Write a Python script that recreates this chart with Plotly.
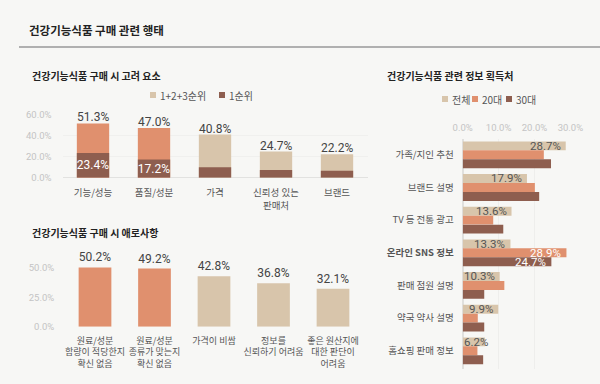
import plotly.graph_objects as go

FONT = "Noto Sans CJK KR"
NUMFONT = "Roboto"
BG = "#f7f7f5"
ORANGE = "#e0906e"
BEIGE = "#d8c5ab"
BROWN = "#8e5e4f"

# Chart 1: 구매 시 고려 요소
c1_categories = ["기능/성능", "품질/성분", "가격", "신뢰성 있는<br>판매처", "브랜드"]
c1_total = [51.3, 47.0, 40.8, 24.7, 22.2]
c1_first = [23.4, 17.2, 9.8, 7.3, 6.6]
c1_first_labels = ["23.4%", "17.2%", "", "", ""]
c1_highlight = [True, True, False, False, False]
c1_series = ["1+2+3순위", "1순위"]

# Chart 2: 구매 시 애로사항
c2_categories = ["원료/성분<br>함량이 적당한지<br>확신 없음",
                 "원료/성분<br>종류가 맞는지<br>확신 없음",
                 "가격이 비쌈",
                 "정보를<br>신뢰하기 어려움",
                 "좋은 원산지에<br>대한 판단이<br>어려움"]
c2_values = [50.2, 49.2, 42.8, 36.8, 32.1]
c2_highlight = [True, True, False, False, False]

# Chart 3: 정보 획득처
c3_categories = ["가족/지인 추천", "브랜드 설명", "TV 등 전통 광고", "<b>온라인 SNS 정보</b>",
                 "판매 점원 설명", "약국 약사 설명", "홈쇼핑 판매 정보"]
c3_all = [28.7, 17.9, 13.6, 13.3, 10.3, 9.9, 6.2]
c3_20s = [22.6, 20.1, 8.5, 28.9, 11.6, 4.2, 4.1]
c3_30s = [24.6, 21.3, 11.3, 24.7, 6.0, 6.0, 5.7]
c3_series = ["전체", "20대", "30대"]
c3_labeled_cat = "<b>온라인 SNS 정보</b>"

fig = go.Figure()

# ---- Chart 1 ----
fig.add_trace(go.Bar(
    x=c1_categories, y=c1_total, xaxis="x", yaxis="y", name=c1_series[0],
    marker=dict(color=[ORANGE if h else BEIGE for h in c1_highlight], line=dict(width=0)),
    width=0.53, showlegend=False, hoverinfo="skip"))
fig.add_trace(go.Bar(
    x=c1_categories, y=c1_first, xaxis="x", yaxis="y", name=c1_series[1],
    marker=dict(color=BROWN, line=dict(width=0)), width=0.53,
    text=c1_first_labels, textposition="inside", insidetextanchor="middle", constraintext="none",
    textfont=dict(size=12, color="white", family=NUMFONT), showlegend=False, hoverinfo="skip"))

# ---- Chart 2 ----
fig.add_trace(go.Bar(
    x=c2_categories, y=c2_values, xaxis="x2", yaxis="y2",
    marker=dict(color=[ORANGE if h else BEIGE for h in c2_highlight], line=dict(width=0)),
    width=0.55, text=[f"{v:.1f}%" for v in c2_values], textposition="outside", constraintext="none",
    textfont=dict(size=12, color="#444", family=NUMFONT), cliponaxis=False, showlegend=False,
    hoverinfo="skip"))

# ---- Chart 3 ----
c3_vals = [c3_all, c3_20s, c3_30s]
c3_colors = [BEIGE, ORANGE, BROWN]
c3_offsets = [-0.41, -0.137, 0.137]
for name, vals, col, off in zip(c3_series, c3_vals, c3_colors, c3_offsets):
    fig.add_trace(go.Bar(
        y=c3_categories, x=vals, orientation="h", xaxis="x3", yaxis="y3",
        marker=dict(color=col, line=dict(width=0)), width=0.273, offset=off,
        name=name, showlegend=False, hoverinfo="skip"))

annotations = []
shapes = []

# totals for chart 1
for cat, v in zip(c1_categories, c1_total):
    annotations.append(dict(x=cat, y=v, xref="x", yref="y", text=f"{v:.1f}%", showarrow=False,
                            xanchor="center", yanchor="bottom", yshift=-3,
                            font=dict(size=12, color="#444", family=NUMFONT)))

# labels for chart 3
yshifts = [9, 0, -9]
for i, (vals, ys) in enumerate(zip(c3_vals, yshifts)):
    for cat, v in zip(c3_categories, vals):
        if i == 0 or cat == c3_labeled_cat:
            annotations.append(dict(
                x=max(v, 8.3), y=cat, xref="x3", yref="y3", text=f"{v:.1f}%",
                xanchor="right", yanchor="middle", xshift=-3, yshift=ys, showarrow=False,
                font=dict(size=11.5, color="#555" if i == 0 else "white", family=NUMFONT)))

# custom legends (small squares + text)
def add_legend(names, colors, xs, ypx):
    yc = 1 - ypx / 384
    for name, col, xpx in zip(names, colors, xs):
        shapes.append(dict(type="rect", xref="paper", yref="paper",
                           x0=xpx / 600, x1=(xpx + 6) / 600, y0=yc - 3 / 384, y1=yc + 3 / 384,
                           fillcolor=col, line=dict(width=0)))
        annotations.append(dict(text=name, x=(xpx + 8) / 600, y=yc, xref="paper", yref="paper",
                                xanchor="left", yanchor="middle", showarrow=False,
                                font=dict(size=10, color="#555", family=FONT)))

add_legend(c1_series, [BEIGE, BROWN], [150, 219], 95)
add_legend(c3_series, c3_colors, [442, 472, 506], 99)

# titles
annotations += [
    dict(text="<b>건강기능식품 구매 관련 행태</b>", x=27/600, y=1-30/384, xref="paper", yref="paper",
         xanchor="left", yanchor="middle", showarrow=False, font=dict(size=11.5, color="#222", family=FONT)),
    dict(text="<b>건강기능식품 구매 시 고려 요소</b>", x=30/600, y=1-75/384, xref="paper", yref="paper",
         xanchor="left", yanchor="middle", showarrow=False, font=dict(size=10, color="#222", family=FONT)),
    dict(text="<b>건강기능식품 구매 시 애로사항</b>", x=30/600, y=1-232/384, xref="paper", yref="paper",
         xanchor="left", yanchor="middle", showarrow=False, font=dict(size=10, color="#222", family=FONT)),
    dict(text="<b>건강기능식품 관련 정보 획득처</b>", x=385/600, y=1-75/384, xref="paper", yref="paper",
         xanchor="left", yanchor="middle", showarrow=False, font=dict(size=10, color="#222", family=FONT)),
]

shapes.append(dict(type="line", xref="paper", yref="paper", x0=19/600, x1=1, y0=1-47/384, y1=1-47/384,
                   line=dict(color="#999", width=1.5)))

tick_font = dict(size=9.5, color="#c4c4c4", family=NUMFONT)
cat_font = dict(size=9.5, color="#555", family=FONT)
cat_font2 = dict(size=9, color="#555", family=FONT)

fig.update_layout(
    width=600, height=384, margin=dict(l=0, r=0, t=0, b=0, autoexpand=False),
    paper_bgcolor=BG, plot_bgcolor=BG, font=dict(family=FONT),
    barmode="overlay", showlegend=False,
    xaxis=dict(domain=[62.5/600, 367.5/600], anchor="y", tickfont=cat_font, showgrid=False,
               showline=False, ticks="", tickangle=0, automargin=False, ticklabelstandoff=8),
    yaxis=dict(domain=[1-177.7/384, 1-114.3/384], anchor="x", range=[0, 60], tickvals=[0, 20, 40, 60],
               ticktext=["0.0%", "20.0%", "40.0%", "60.0%"], tickfont=tick_font, showgrid=True,
               gridcolor="#f0f0ee", zeroline=True, zerolinecolor="#e2e2e0", zerolinewidth=1,
               ticklabelstandoff=10, automargin=False),
    xaxis2=dict(domain=[65.25/600, 362.75/600], anchor="y2", tickfont=cat_font2, showgrid=False,
                showline=False, ticks="", tickangle=0, automargin=False, ticklabelstandoff=7),
    yaxis2=dict(domain=[1-326.7/384, 1-266.5/384], anchor="x2", range=[0, 51], tickvals=[0, 25, 50],
                ticktext=["0.0%", "25.0%", "50.0%"], tickfont=tick_font, showgrid=False, zeroline=False,
                ticklabelstandoff=10, automargin=False),
    xaxis3=dict(domain=[462.7/600, 570.4/600], anchor="y3", side="top", range=[0, 30],
                tickvals=[0, 10, 20, 30], ticktext=["0.0%", "10.0%", "20.0%", "30.0%"], tickfont=tick_font,
                showgrid=True, gridcolor="#eeeeec", zeroline=True, zerolinecolor="#e0e0de",
                ticklabelstandoff=5, tickangle=0, automargin=False),
    yaxis3=dict(domain=[1-368.8/384, 1-138.5/384], anchor="x3", autorange="reversed", tickfont=cat_font,
                showgrid=False, ticks="", ticklabelstandoff=8, automargin=False),
    annotations=annotations, shapes=shapes,
)

fig.write_html("out.html", config={"displayModeBar": False},
               post_script="document.body.style.margin='0';document.body.style.padding='0';"
                           "document.body.style.background='" + BG + "';document.body.style.overflow='hidden';")
